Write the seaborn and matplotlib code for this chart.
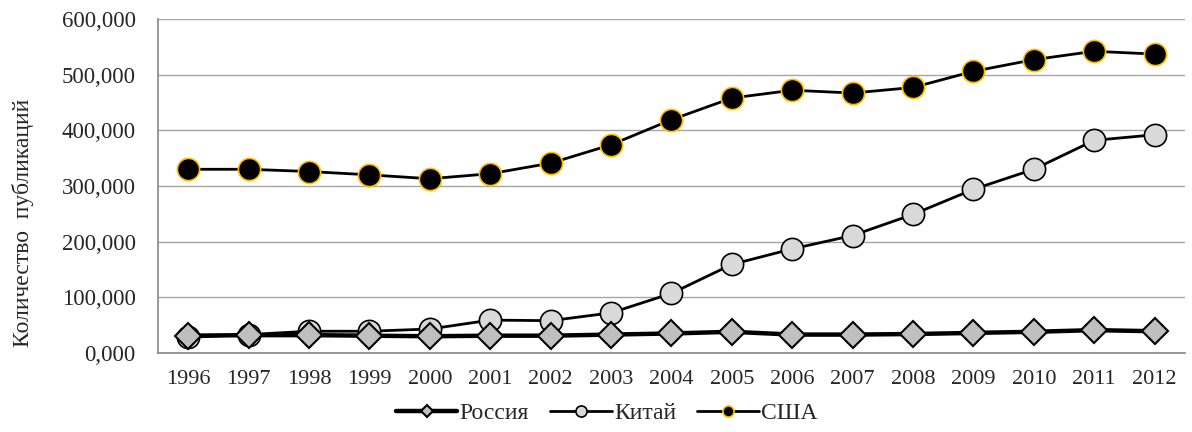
import numpy as np
import pandas as pd
import matplotlib
matplotlib.use("Agg")
import matplotlib.pyplot as plt
import seaborn as sns
from matplotlib.ticker import FuncFormatter, MultipleLocator, FixedLocator

# data
years = list(range(1996, 2013))
russia = [31000, 32000, 32000, 31000, 30000, 31000, 31000, 33000, 35000, 38000,
          33000, 33000, 34000, 36000, 38000, 41000, 39000]
china = [28000, 33000, 39000, 39000, 43000, 59000, 58000, 72000, 107000, 159000,
         187000, 211000, 249000, 294000, 330000, 382000, 392000]
usa = [330000, 330000, 326000, 320000, 313000, 322000, 341000, 374000, 419000, 458000,
       472000, 467000, 477000, 506000, 527000, 542000, 537000]
names = ['Россия', 'Китай', 'США']

df = pd.DataFrame({'year': years, 'Россия': russia, 'Китай': china, 'США': usa})

sns.set_style("white")
plt.rcParams['font.family'] = ['Liberation Serif', 'DejaVu Serif']

fig = plt.figure(figsize=(11.92, 4.32), dpi=100)
ax = fig.add_axes([0.1326, 0.183, 0.8614, 0.773])

sns.lineplot(data=df, x='year', y='Китай', ax=ax, color='black', lw=2,
             marker='o', markersize=16, markerfacecolor='#d9d9d9',
             markeredgecolor='black', markeredgewidth=1.2, label='Китай', zorder=3)
sns.lineplot(data=df, x='year', y='Россия', ax=ax, color='black', lw=3.2,
             marker='D', markersize=13, markerfacecolor='#bfbfbf',
             markeredgecolor='black', markeredgewidth=1.5, label='Россия', zorder=4)
sns.lineplot(data=df, x='year', y='США', ax=ax, color='black', lw=2,
             marker='o', markersize=16, markerfacecolor='black',
             markeredgecolor='#ffc000', markeredgewidth=1.2, label='США', zorder=5)

ax.set_xlim(1995.5, 2012.5)
ax.set_ylim(0, 600000)
ax.xaxis.set_major_locator(FixedLocator(years))
ax.xaxis.set_minor_locator(FixedLocator(np.arange(1995.5, 2013, 1)))
ax.yaxis.set_major_locator(MultipleLocator(100000))
ax.yaxis.set_minor_locator(MultipleLocator(20000))
ax.yaxis.set_major_formatter(FuncFormatter(lambda v, p: '0,000' if v == 0 else f'{v:,.0f}'))
ax.tick_params(axis='x', which='major', length=0, labelsize=16, pad=12)
ax.tick_params(axis='x', which='minor', length=5, direction='out', color='#868686', width=1)
ax.tick_params(axis='y', which='both', length=8, direction='inout', color='#868686',
               width=1, labelsize=16.5, pad=12)
ax.grid(axis='y', which='major', color='#a6a6a6', lw=1)
ax.grid(axis='x', visible=False)
for s in ['top', 'right']:
    ax.spines[s].set_visible(False)
for s in ['left', 'bottom']:
    ax.spines[s].set_color('#868686')
    ax.spines[s].set_linewidth(1.2)
ax.set_xlabel('')
ax.set_ylabel('Количество  публикаций', fontsize=17)
ax.yaxis.set_label_coords(-0.1208, 0.39)

handles, labels = ax.get_legend_handles_labels()
order = [labels.index(n) for n in names]
ax.legend([handles[i] for i in order], names, loc='center',
          bbox_to_anchor=(0.437, -0.18), ncol=3, frameon=False, fontsize=17,
          handlelength=2.6, columnspacing=0.9, handletextpad=0.1, markerscale=0.5)

fig.savefig('out.png', dpi=100)
